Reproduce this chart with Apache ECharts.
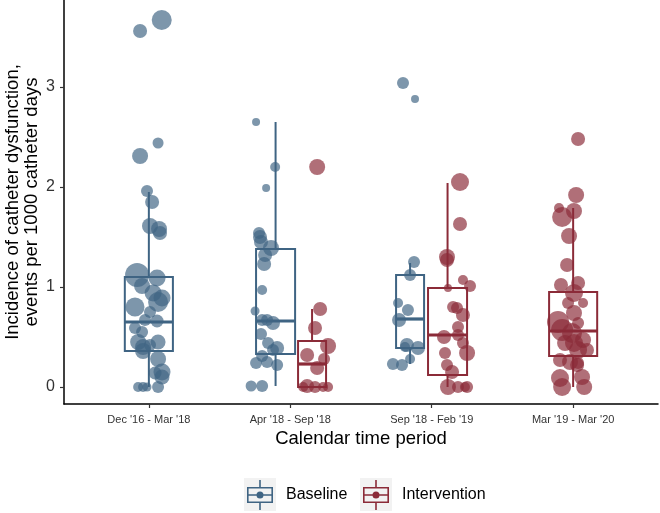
<!DOCTYPE html>
<html>
<head>
<meta charset="utf-8">
<script src="https://cdn.jsdelivr.net/npm/echarts@6/dist/echarts.min.js"></script>
<style>html,body{margin:0;padding:0;background:#fff}#c{width:660px;height:513px}</style>
</head>
<body>
<div id="c"></div>
<script>
// ---------- DATA ----------
const periods = ["Dec '16 - Mar '18", "Apr '18 - Sep '18", "Sep '18 - Feb '19", "Mar '19 - Mar '20"];
const groups = ["Baseline", "Intervention"];
const yTicks = [0, 1, 2, 3];

// box statistics: [lower whisker, Q1, median, Q3, upper whisker]
const baselineBoxPeriods = [1, 2, 3];
const baselineBoxStats = [
  [0.00, 0.36, 0.65, 1.10, 1.95],
  [0.01, 0.33, 0.66, 1.38, 2.65],
  [0.23, 0.39, 0.68, 1.12, 1.24]
];
const interventionBoxPeriods = [2, 3, 4];
const interventionBoxStats = [
  [0.00, 0.00, 0.23, 0.46, 0.78],
  [0.00, 0.12, 0.52, 0.99, 2.04],
  [0.00, 0.31, 0.56, 0.95, 1.79]
];

// points: [jitter position within period, incidence, point size]
const baselineP1 = [
  [0.091,3.67,20],[-0.062,3.56,14],[0.065,2.44,11],[-0.062,2.31,16],[-0.013,1.96,12],
  [0.023,1.85,14],[0.008,1.61,16],[0.072,1.58,16],[0.079,1.54,14],[-0.083,1.12,24],
  [0.058,1.09,17],[-0.048,1.01,16],[0.030,0.94,17],[0.093,0.89,17],[0.065,0.85,20],
  [-0.098,0.80,19],[0.008,0.75,12],[-0.027,0.67,12],[0.058,0.66,13],[-0.098,0.59,12],
  [-0.048,0.55,12],[-0.076,0.45,16],[0.065,0.45,15],[-0.041,0.40,16],[0.008,0.42,12],
  [-0.041,0.36,16],[0.065,0.28,16],[0.044,0.14,13],[0.093,0.15,17],[0.093,0.10,15],
  [-0.076,0.00,10],[-0.041,0.00,10],[-0.013,0.00,9],[0.065,0.00,12]
];
const baselineP2 = [
  [-0.242,2.65,8],[-0.107,2.20,10],[-0.171,1.99,8],[-0.221,1.54,12],[-0.214,1.50,14],
  [-0.207,1.45,14],[-0.136,1.39,16],[-0.178,1.32,14],[-0.185,1.23,14],[-0.199,0.97,10],
  [-0.249,0.76,9],[-0.199,0.67,12],[-0.122,0.64,14],[-0.164,0.67,12],[-0.207,0.53,12],
  [-0.157,0.44,12],[-0.093,0.39,14],[-0.122,0.37,12],[-0.199,0.31,12],[-0.242,0.24,12],
  [-0.164,0.25,12],[-0.093,0.22,12],[-0.277,0.01,11],[-0.199,0.01,12]
];
const baselineP3 = [
  [-0.203,3.04,12],[-0.118,2.88,8],[-0.125,1.25,12],[-0.153,1.12,12],[-0.238,0.84,10],
  [-0.168,0.77,12],[-0.231,0.67,14],[-0.175,0.42,14],[-0.097,0.39,14],[-0.189,0.40,10],
  [-0.153,0.28,10],[-0.274,0.23,12],[-0.210,0.22,12]
];
const interventionP2 = [
  [0.190,2.20,16],[0.211,0.78,14],[0.175,0.59,14],[0.267,0.41,16],[0.119,0.32,14],
  [0.239,0.28,12],[0.190,0.19,14],[0.119,0.01,14],[0.175,0.00,12],[0.267,0.00,10],
  [0.091,0.00,10],[0.232,0.00,10]
];
const interventionP3 = [
  [0.200,2.05,18],[0.200,1.63,14],[0.108,1.30,16],[0.108,1.27,14],[0.221,1.07,10],
  [0.271,1.01,12],[0.115,0.99,8],[0.151,0.80,12],[0.179,0.79,12],[0.221,0.72,14],
  [0.186,0.60,12],[0.186,0.52,12],[0.087,0.50,14],[0.221,0.44,12],[0.250,0.34,16],
  [0.094,0.34,12],[0.108,0.22,12],[0.144,0.15,14],[0.115,0.00,16],[0.186,0.00,12],
  [0.250,0.00,12],[0.235,0.00,10]
];
const interventionP4 = [
  [0.035,2.48,14],[0.021,1.92,16],[0.006,1.76,16],[-0.100,1.79,10],[-0.078,1.70,20],
  [-0.029,1.51,16],[-0.043,1.22,14],[-0.086,1.02,14],[0.035,1.04,14],[0.006,0.94,18],
  [0.070,0.84,10],[-0.036,0.84,12],[0.006,0.74,16],[-0.107,0.65,22],[-0.078,0.57,22],
  [0.035,0.64,12],[-0.008,0.54,20],[0.070,0.47,16],[0.006,0.44,18],[-0.057,0.44,16],
  [0.035,0.37,18],[0.098,0.37,14],[-0.093,0.27,14],[-0.022,0.25,16],[0.028,0.22,14],
  [0.035,0.24,12],[-0.093,0.09,18],[0.063,0.10,16],[-0.078,0.00,18],[0.078,0.00,16]
];

// ---------- LAYOUT / STYLE ----------
const baselineBoxOffset = [0, -0.104, -0.153];
const baselineBoxWidth = [0.34, 0.276, 0.198];
const interventionBoxOffset = [0.154, 0.112, 0];
const interventionBoxWidth = [0.198, 0.276, 0.34];
const COL = { Baseline: '#3F6483', Intervention: '#8B2B38' };
const FONT = 'Liberation Sans, Arial, sans-serif';

function pointData(period, arr) { return arr.map(p => [period + p[0], p[1], p[2]]); }
const baselinePoints = [].concat(pointData(1, baselineP1), pointData(2, baselineP2), pointData(3, baselineP3));
const interventionPoints = [].concat(pointData(2, interventionP2), pointData(3, interventionP3), pointData(4, interventionP4));

function boxData(periodsArr, stats, offsets) {
  return stats.map((s, i) => [periodsArr[i] + offsets[i]].concat(s));
}
function boxRenderer(widths, color) {
  return function (params, api) {
    const x = api.value(0);
    const w = widths[params.dataIndex];
    const lo = api.coord([x, api.value(1)]);
    const q1 = api.coord([x, api.value(2)]);
    const md = api.coord([x, api.value(3)]);
    const q3 = api.coord([x, api.value(4)]);
    const hi = api.coord([x, api.value(5)]);
    const hw = api.size([w, 0])[0] / 2;
    const st = { stroke: color, lineWidth: 2, fill: null };
    return {
      type: 'group',
      children: [
        { type: 'line', shape: { x1: hi[0], y1: hi[1], x2: q3[0], y2: q3[1] }, style: st },
        { type: 'line', shape: { x1: q1[0], y1: q1[1], x2: lo[0], y2: lo[1] }, style: st },
        { type: 'rect', shape: { x: q3[0] - hw, y: q3[1], width: hw * 2, height: q1[1] - q3[1] }, style: { stroke: color, lineWidth: 2, fill: 'rgba(0,0,0,0)' } },
        { type: 'line', shape: { x1: md[0] - hw, y1: md[1], x2: md[0] + hw, y2: md[1] }, style: { stroke: color, lineWidth: 3.2 } }
      ]
    };
  };
}

const GLYPH = 'path://M12.2 0 H13.8 V7 H12.2 Z M0 7 H26 V23 H0 Z M1.6 8.6 V21.4 H24.4 V8.6 Z M1.6 14.2 H24.4 V15.8 H1.6 Z M12.2 23 H13.8 V30 H12.2 Z M9.5 15 A3.5 3.5 0 1 1 16.5 15 A3.5 3.5 0 1 1 9.5 15 Z';

function legendFor(name, left) {
  return {
    data: [{ name: name, icon: GLYPH, itemStyle: { color: COL[name], opacity: 1, borderWidth: 0 } }],
    left: left, top: 480, itemWidth: 26, itemHeight: 30, symbolKeepAspect: false,
    padding: 0, selectedMode: false, z: 10,
    textStyle: { fontFamily: FONT, fontSize: 16, color: '#000', padding: [0, 0, 0, 8] }
  };
}

const chart = echarts.init(document.getElementById('c'), null, { renderer: 'canvas' });
chart.setOption({
  animation: false,
  backgroundColor: '#fff',
  grid: { left: 64, right: 2, top: 0, bottom: 109, containLabel: false, outerBoundsMode: 'none' },
  graphic: [
    { type: 'rect', left: 244, top: 478, z: -1, shape: { width: 32, height: 33 }, style: { fill: '#F2F2F2' } },
    { type: 'rect', left: 360, top: 478, z: -1, shape: { width: 32, height: 33 }, style: { fill: '#F2F2F2' } }
  ],
  legend: [legendFor('Baseline', 247), legendFor('Intervention', 363)],
  xAxis: {
    type: 'value', min: 0.4, max: 4.6,
    name: 'Calendar time period', nameLocation: 'middle', nameGap: 25, nameMoveOverlap: false,
    nameTextStyle: { fontFamily: FONT, fontSize: 18.5, color: '#000' },
    axisLine: { show: true, onZero: false, lineStyle: { color: '#000', width: 1.5 } },
    axisTick: { show: true, length: 4, customValues: [1, 2, 3, 4], lineStyle: { color: '#333', width: 1.2 } },
    axisLabel: { customValues: [1, 2, 3, 4], formatter: v => periods[Math.round(v) - 1], fontFamily: FONT, fontSize: 11, color: '#333', margin: 10 },
    splitLine: { show: false }
  },
  yAxis: {
    type: 'value', min: -0.17, max: 3.87,
    name: 'Incidence of catheter dysfunction,\nevents per 1000 catheter days',
    nameLocation: 'middle', nameGap: 23, nameRotate: 90, nameMoveOverlap: false,
    nameTextStyle: { fontFamily: FONT, fontSize: 18.5, color: '#000', lineHeight: 19, align: 'center' },
    axisLine: { show: true, onZero: false, lineStyle: { color: '#000', width: 1.5 } },
    axisTick: { show: true, length: 4, customValues: yTicks, lineStyle: { color: '#333', width: 1.2 } },
    axisLabel: { customValues: yTicks, fontFamily: FONT, fontSize: 16, color: '#333', margin: 9 },
    splitLine: { show: false }
  },
  series: [
    { name: 'Baseline', type: 'custom', z: 2, renderItem: boxRenderer(baselineBoxWidth, COL.Baseline),
      encode: { x: 0, y: [1, 2, 3, 4, 5] }, data: boxData(baselineBoxPeriods, baselineBoxStats, baselineBoxOffset) },
    { name: 'Intervention', type: 'custom', z: 2, renderItem: boxRenderer(interventionBoxWidth, COL.Intervention),
      encode: { x: 0, y: [1, 2, 3, 4, 5] }, data: boxData(interventionBoxPeriods, interventionBoxStats, interventionBoxOffset) },
    { name: 'Baseline', type: 'scatter', z: 3, data: baselinePoints, symbolSize: v => v[2],
      itemStyle: { color: COL.Baseline, opacity: 0.68 } },
    { name: 'Intervention', type: 'scatter', z: 3, data: interventionPoints, symbolSize: v => v[2],
      itemStyle: { color: COL.Intervention, opacity: 0.68 } }
  ]
});
</script>
</body>
</html>
